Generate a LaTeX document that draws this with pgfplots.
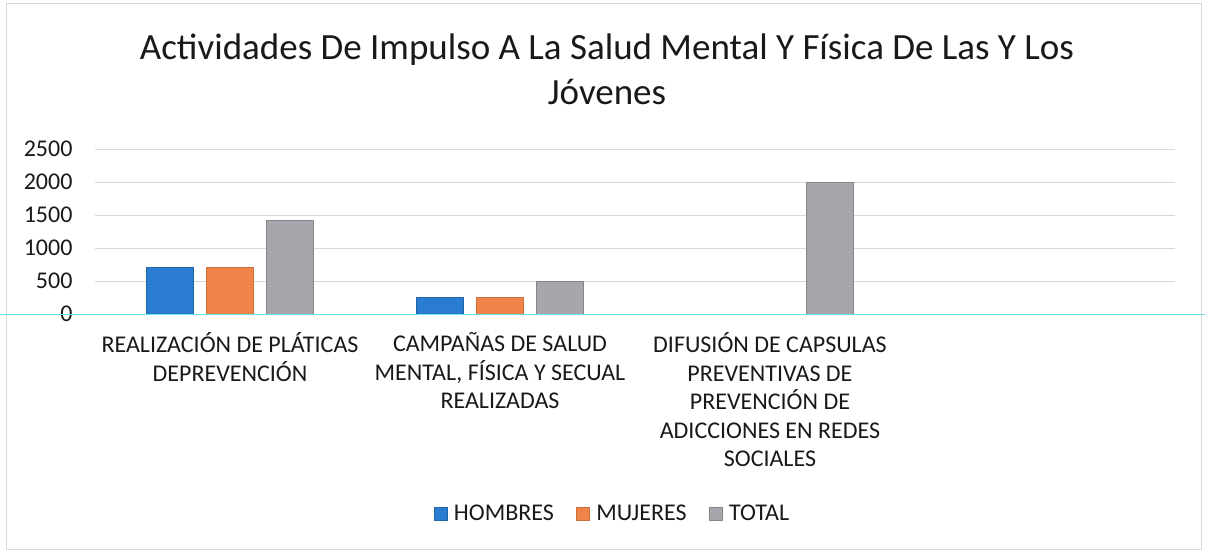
\documentclass[border=0pt]{standalone}
\usepackage{fontspec}
\setmainfont{Carlito}
\usepackage{pgfplots}
\pgfplotsset{compat=1.18}
\definecolor{hombres}{RGB}{42,124,208}
\definecolor{mujeres}{RGB}{240,132,72}
\definecolor{total}{RGB}{166,167,172}
\definecolor{gridgray}{RGB}{215,215,222}
\definecolor{scanline}{RGB}{110,225,232}
\definecolor{txt}{RGB}{25,25,25}

\begin{document}
\begin{tikzpicture}[x=1pt,y=1pt]
\path[use as bounding box] (0,0) rectangle (1205,552);
\draw[gray!30, line width=1pt] (6,3) rectangle (1201,548);
% title
\node[align=center, text=txt, font=\fontsize{37}{45}\selectfont] at (607,483)
  {Actividades De Impulso A La Salud Mental Y Física De Las Y Los\\Jóvenes};
\begin{axis}[
  at={(95pt,238pt)}, anchor=south west,
  scale only axis, width=1080pt, height=165pt,
  ybar=13pt, bar width=47pt,
  xmin=-0.5, xmax=3.5, ymin=0, ymax=2500,
  xtick={0,1,2,3},
  xticklabels={
    {REALIZACIÓN DE PLÁTICAS\\DEPREVENCIÓN},
    {CAMPAÑAS DE SALUD\\MENTAL, FÍSICA Y SECUAL\\REALIZADAS},
    {DIFUSIÓN DE CAPSULAS\\PREVENTIVAS DE\\PREVENCIÓN DE\\ADICCIONES EN REDES\\SOCIALES},
    {}},
  ytick={0,500,...,2500},
  axis line style={draw=none},
  major tick length=0pt,
  ymajorgrids, grid style={gridgray, line width=1pt},
  /pgf/number format/assume math mode=true,
  /pgf/number format/1000 sep={},
  tick label style={text=txt, font=\fontsize{24}{28.5}\selectfont},
  xticklabel style={align=center, anchor=north, yshift=-15pt},
  yticklabel style={anchor=east, xshift=-19pt},
  legend style={at={(0.479,-1.21)}, anchor=center, draw=none, fill=none,
    legend columns=3, font=\fontsize{24}{26}\selectfont, text=txt,
    /tikz/every even column/.append style={column sep=20pt}},
  legend image code/.code={\fill[#1] (0pt,-6.5pt) rectangle (13pt,6.5pt);
    \path (18pt,0pt);},
  clip=false,
]
\addplot[fill=hombres, draw=hombres!80!black] coordinates {(0,710) (1,250)};
\addplot[fill=mujeres, draw=mujeres!85!black] coordinates {(0,710) (1,250)};
\addplot[fill=total, draw=total!80!black] coordinates {(0,1420) (1,500) (2,2000)};
\legend{HOMBRES, MUJERES, TOTAL}
\end{axis}
\draw[scanline, line width=1.5pt] (0,237.5) -- (1205,237.5);
\end{tikzpicture}
\end{document}
